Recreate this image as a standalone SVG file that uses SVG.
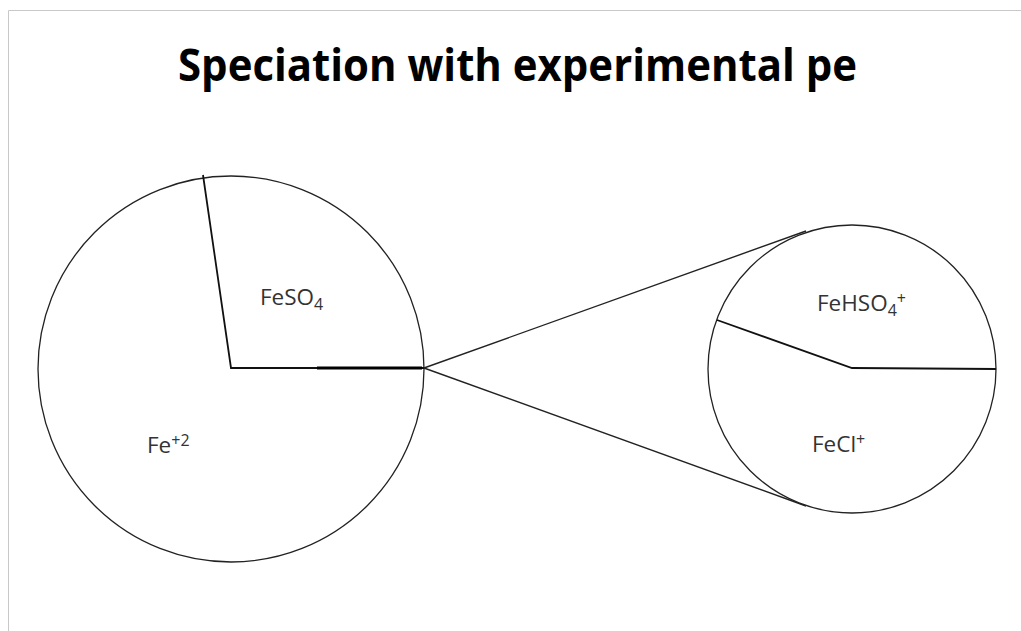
<svg xmlns="http://www.w3.org/2000/svg" width="1021" height="631" viewBox="0 0 1021 631">
<style>
.pie{fill:#fff;stroke:#222;stroke-width:1.3}
.edge{fill:none;stroke:#111;stroke-width:1.8}
.conn{fill:none;stroke:#222;stroke-width:1.4}
.lbl{font-family:"Open Sans","Liberation Sans",sans-serif;font-size:22.5px;fill:#333}
.title{font-family:"Open Sans","Liberation Sans",sans-serif;font-weight:bold;font-size:45px;fill:#000}
</style>
<rect width="1021" height="631" fill="#fff"/>
<path d="M8.5,631 V10.5 H1021" fill="none" stroke="#c8c8c8" stroke-width="1"/>
<text class="title" x="178" y="81" textLength="679" lengthAdjust="spacingAndGlyphs">Speciation with experimental pe</text>
<g id="connectors">
<line class="conn" x1="424" y1="368" x2="806" y2="231"/>
<line class="conn" x1="424" y1="368" x2="806" y2="506"/>
</g>
<g id="main-pie">
<circle class="pie" cx="231" cy="369" r="193"/>
<polyline class="edge" points="203,175 231,368 424,368"/>
<line x1="317" y1="368" x2="422" y2="368" stroke="#000" stroke-width="3"/>
<text class="lbl" x="260" y="305">FeSO<tspan font-size="16" dy="5">4</tspan></text>
<text class="lbl" x="147" y="453">Fe<tspan font-size="16" dy="-7">+2</tspan></text>
</g>
<g id="detail-pie">
<circle class="pie" cx="852" cy="369" r="144"/>
<polyline class="edge" points="717,320 852,368 996,369"/>
<text class="lbl" x="817" y="311">FeHSO<tspan font-size="16" dy="5">4</tspan><tspan font-size="16" dy="-12">+</tspan></text>
<text class="lbl" x="812" y="452">FeCl<tspan font-size="16" dy="-7">+</tspan></text>
</g>
</svg>
